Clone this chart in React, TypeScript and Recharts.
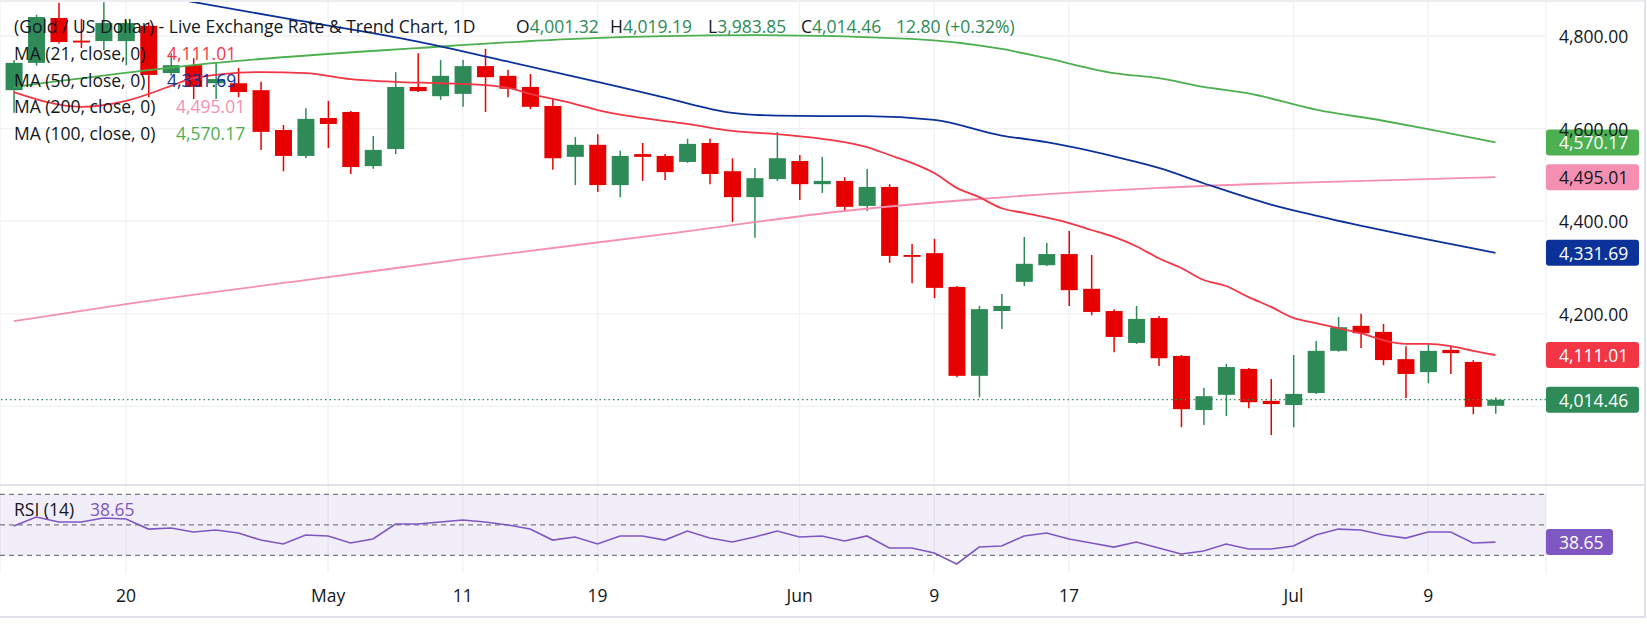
import React from "react";
import {
  ComposedChart,
  LineChart,
  Bar,
  Line,
  XAxis,
  YAxis,
  CartesianGrid,
  ReferenceLine,
  ReferenceArea,
} from "recharts";

// Daily sessions shown on the chart
const dates = [
  "Apr 13", "Apr 14", "Apr 15", "Apr 16", "Apr 17",
  "Apr 20", "Apr 21", "Apr 22", "Apr 23", "Apr 24",
  "Apr 27", "Apr 28", "Apr 29", "Apr 30", "May 1",
  "May 4", "May 5", "May 6", "May 7", "May 8",
  "May 11", "May 12", "May 13", "May 14", "May 15",
  "May 18", "May 19", "May 20", "May 21", "May 22",
  "May 25", "May 26", "May 27", "May 28", "May 29",
  "Jun 1", "Jun 2", "Jun 3", "Jun 4", "Jun 5",
  "Jun 8", "Jun 9", "Jun 10", "Jun 11", "Jun 12",
  "Jun 15", "Jun 16", "Jun 17", "Jun 18", "Jun 19",
  "Jun 22", "Jun 23", "Jun 24", "Jun 25", "Jun 26",
  "Jun 29", "Jun 30", "Jul 1", "Jul 2", "Jul 3",
  "Jul 6", "Jul 7", "Jul 8", "Jul 9", "Jul 10",
  "Jul 13", "Jul 14",
];

const opens = [
  4683, 4742, 4839, 4790, 4789, 4789, 4822, 4720, 4737, 4698,
  4698, 4683, 4597, 4541, 4623, 4636, 4519, 4556, 4690, 4670,
  4675, 4735, 4714, 4690, 4649, 4539, 4565, 4478, 4545, 4541,
  4528, 4569, 4508, 4452, 4491, 4530, 4480, 4487, 4433, 4474,
  4327, 4331, 4258, 4066, 4206, 4269, 4305, 4329, 4254, 4206,
  4137, 4191, 4109, 3992, 4025, 4081, 4012, 4003, 4029, 4120,
  4174, 4161, 4102, 4074, 4122, 4096, 4001.32,
];
const highs = [
  4748, 4846, 4872, 4837, 4873, 4834, 4830, 4763, 4752, 4742,
  4731, 4701, 4608, 4644, 4660, 4638, 4584, 4722, 4763, 4748,
  4748, 4772, 4727, 4718, 4664, 4582, 4588, 4552, 4569, 4545,
  4578, 4578, 4536, 4515, 4593, 4543, 4539, 4495, 4513, 4480,
  4351, 4362, 4260, 4217, 4243, 4366, 4353, 4379, 4327, 4210,
  4217, 4195, 4111, 4040, 4092, 4083, 4059, 4111, 4141, 4193,
  4200, 4178, 4130, 4135, 4130, 4100, 4019.19,
];
const lows = [
  4634, 4736, 4784, 4774, 4770, 4737, 4668, 4714, 4664, 4664,
  4668, 4554, 4508, 4536, 4558, 4502, 4513, 4545, 4679, 4662,
  4647, 4636, 4668, 4642, 4511, 4478, 4463, 4452, 4487, 4489,
  4526, 4480, 4398, 4364, 4487, 4446, 4461, 4424, 4422, 4310,
  4266, 4234, 4063, 4020, 4167, 4260, 4303, 4217, 4197, 4117,
  4135, 4087, 3955, 3960, 3979, 3996, 3938, 3955, 4027, 4118,
  4126, 4089, 4018, 4050, 4070, 3983, 3983.85,
];
const closes = [
  4742, 4841, 4787, 4786, 4828, 4828, 4716, 4737, 4690, 4707,
  4679, 4593, 4541, 4621, 4610, 4517, 4554, 4690, 4681, 4714,
  4735, 4711, 4686, 4647, 4536, 4565, 4478, 4541, 4539, 4506,
  4567, 4502, 4452, 4493, 4536, 4480, 4487, 4431, 4474, 4325,
  4323, 4256, 4066, 4210, 4217, 4308, 4329, 4251, 4204, 4150,
  4189, 4104, 3994, 4022, 4085, 4009, 4005, 4027, 4120, 4171,
  4158, 4100, 4070, 4120, 4115, 3999, 4014.46,
];

// Moving averages, sampled as [session index, value]
const ma21Points: [number, number][] = [
  [0, 4679], [3, 4647], [5, 4660], [7, 4692], [8, 4709], [11, 4722], [13, 4720],
  [15, 4707], [17, 4701], [19, 4698], [21, 4694], [22, 4688], [23, 4675], [25, 4653],
  [26, 4640], [28, 4623], [30, 4610], [32, 4595], [34, 4588], [36, 4578], [37, 4571],
  [38, 4560], [39, 4543], [40, 4526], [41, 4504], [42, 4472], [43, 4452], [44, 4428],
  [45, 4418], [47, 4396], [48, 4381], [49, 4366], [50, 4346], [51, 4320], [52, 4299],
  [53, 4273], [54, 4260], [55, 4236], [56, 4215], [57, 4191], [58, 4180], [59, 4169],
  [60, 4158], [61, 4143], [62, 4135], [63, 4135], [64, 4130], [65, 4120], [66, 4111.01],
];
const ma50Points: [number, number][] = [
  [7, 4882], [12, 4839], [18, 4788], [22, 4745], [26, 4701], [29, 4667], [32, 4634],
  [34, 4628], [36, 4627], [38, 4627], [41, 4619], [44, 4585], [46, 4571], [50, 4528],
  [51, 4515], [53, 4482], [56, 4436], [58, 4412], [61, 4380], [66, 4331.69],
];
const ma100Points: [number, number][] = [
  [0, 4690], [9, 4742], [18, 4774], [25, 4794], [33, 4802], [40, 4794], [44, 4772],
  [46, 4752], [49, 4720], [51, 4709], [53, 4690], [55, 4676], [58, 4641], [61, 4617],
  [63, 4599], [66, 4570.17],
];
const ma200Points: [number, number][] = [
  [0, 4184], [5, 4221], [14, 4279], [20, 4318], [29, 4372], [37, 4422], [43, 4448],
  [51, 4472], [57, 4483], [66, 4495.01],
];

const rsi14 = [
  49.2, 55.1, 51.8, 51.8, 54.5, 53.8, 47.2, 47.9, 45.3, 46.6,
  44.6, 40.0, 37.4, 43.3, 42.7, 38.1, 40.7, 50.5, 50.5, 51.8,
  53.1, 51.8, 49.9, 47.2, 40.0, 42.0, 37.4, 42.7, 42.7, 40.0,
  45.9, 41.3, 38.7, 42.0, 45.9, 42.0, 42.7, 39.4, 42.7, 34.8,
  34.8, 31.5, 24.3, 35.4, 36.1, 42.7, 44.6, 40.7, 38.1, 35.4,
  38.7, 34.8, 30.9, 32.8, 37.4, 34.1, 34.1, 36.1, 43.3, 47.2,
  46.6, 43.3, 41.3, 45.3, 45.3, 38.1, 38.65,
];

const axisTicks: [string, string][] = [
  ["Apr 20", "20"], ["May 1", "May"], ["May 11", "11"], ["May 19", "19"],
  ["Jun 1", "Jun"], ["Jun 9", "9"], ["Jun 17", "17"], ["Jul 1", "Jul"], ["Jul 9", "9"],
];
// grid levels; the 4,000 label is hidden behind the last-price tag
const priceTicks = [4000, 4200, 4400, 4600, 4800];
const priceLabels = [4200, 4400, 4600, 4800];
const rsiLevels = [70, 50, 30];
const dayChange = "12.80 (+0.32%)";

const W = 1647;
const AXIS_W = 101;
const MAIN_H = 485;
const RSI_H = 132;
const X_DOMAIN: [number, number] = [-0.615, 68.25];
const PRICE_DOMAIN: [number, number] = [3830.2, 4877.8];
const RSI_DOMAIN: [number, number] = [18.4, 76.1];

const UP = "#2e8b57";
const DOWN = "#e60000";
const GRID = "#f0f1f4";
const TEXT = "#131722";
const FONT = "'Open Sans', sans-serif";
const FS = 17.5;
const C21 = "#f23645";
const C50 = "#0c3299";
const C100 = "#4caf50";
const C200 = "#f48fb1";
const CRSI = "#7e57c2";

const toMap = (pts: [number, number][]) => new Map(pts);
const m21 = toMap(ma21Points);
const m50 = toMap(ma50Points);
const m100 = toMap(ma100Points);
const m200 = toMap(ma200Points);

const rows = dates.map((date, i) => ({
  i,
  date,
  open: opens[i],
  high: highs[i],
  low: lows[i],
  close: closes[i],
  ma21: m21.get(i) ?? null,
  ma50: m50.get(i) ?? null,
  ma100: m100.get(i) ?? null,
  ma200: m200.get(i) ?? null,
  rsi: rsi14[i],
}));

const tickIndex = axisTicks.map(([d]) => dates.indexOf(d));
const tickText = new Map(axisTicks.map(([d, t]) => [dates.indexOf(d), t]));

const fmt = (v: number) =>
  v.toLocaleString("en-US", { minimumFractionDigits: 2, maximumFractionDigits: 2 });
const lastOf = (pts: [number, number][]) => pts[pts.length - 1][1];
const last = rows.length - 1;

function Candle(props: any) {
  const { x, y, width, height, payload } = props;
  if (!payload) return null;
  const { open, close, high, low } = payload;
  const top = Math.min(y, y + height);
  const span = Math.abs(height);
  const k = span / (high - low);
  const yOf = (v: number) => top + (high - v) * k;
  const color = close >= open ? UP : DOWN;
  const cx = x + width / 2;
  const bodyTop = yOf(Math.max(open, close));
  const bodyH = Math.max(1.5, Math.abs(yOf(open) - yOf(close)));
  return (
    <g>
      <line x1={cx} x2={cx} y1={top} y2={top + span} stroke={color} strokeWidth={1.5} />
      <rect x={x} y={bodyTop} width={width} height={bodyH} fill={color} />
    </g>
  );
}

function PriceTick(props: any) {
  const { x, y, payload } = props;
  if (!priceLabels.includes(payload.value)) return null;
  return (
    <text x={x} y={y} fill={TEXT} fontSize={FS} fontFamily={FONT} dominantBaseline="central">
      {fmt(payload.value)}
    </text>
  );
}

function DateTick(props: any) {
  const { x, y, payload } = props;
  return (
    <text x={x} y={y + 22} fill={TEXT} fontSize={FS} fontFamily={FONT} textAnchor="middle" dominantBaseline="central">
      {tickText.get(payload.value) ?? ""}
    </text>
  );
}

// price tag drawn in the axis column, level with its reference line
const badge = (text: string, fill: string, ink: string, w = 93) => (props: any) => {
  const vb = props.viewBox;
  if (!vb) return null;
  const bx = vb.x + vb.width;
  return (
    <g>
      <rect x={bx} y={vb.y - 13} width={w} height={26} rx={3} fill={fill} />
      <text x={bx + 13} y={vb.y} fill={ink} fontSize={FS} fontFamily={FONT} dominantBaseline="central">
        {text}
      </text>
    </g>
  );
};

const rowStyle = (top: number, left: number): React.CSSProperties => ({
  position: "absolute",
  top: top - 12,
  left,
  height: 24,
  lineHeight: "24px",
  fontSize: FS,
  whiteSpace: "nowrap",
  color: TEXT,
});

export default function App() {
  const maRows: [string, number, string, number][] = [
    ["MA (21, close, 0)", lastOf(ma21Points), C21, 167],
    ["MA (50, close, 0)", lastOf(ma50Points), C50, 167],
    ["MA (200, close, 0)", lastOf(ma200Points), C200, 176],
    ["MA (100, close, 0)", lastOf(ma100Points), C100, 176],
  ];
  const ohlc: [string, number, number][] = [
    ["O", opens[last], 516],
    ["H", highs[last], 610],
    ["L", lows[last], 708],
    ["C", closes[last], 801],
  ];

  return (
    <div
      style={{
        position: "relative",
        width: W,
        height: 627,
        background: "#fff",
        fontFamily: FONT,
        overflow: "hidden",
      }}
    >
      <style>{"body{margin:0}"}</style>

      <div style={{ position: "absolute", top: 0, left: 0 }}>
        <ComposedChart width={W} height={MAIN_H} data={rows} margin={{ top: 0, right: 0, bottom: 0, left: 0 }}>
          <CartesianGrid stroke={GRID} strokeWidth={1.3} />
          <XAxis type="number" dataKey="i" domain={X_DOMAIN} ticks={tickIndex} hide allowDataOverflow />
          <YAxis
            orientation="right"
            type="number"
            domain={PRICE_DOMAIN}
            ticks={priceTicks}
            width={AXIS_W}
            allowDataOverflow
            axisLine={false}
            tickLine={false}
            tickSize={0}
            tickMargin={13}
            tick={<PriceTick />}
          />
          <Bar
            dataKey={(d: any) => [d.low, d.high]}
            shape={<Candle />}
            barSize={17}
            isAnimationActive={false}
          />
          <Line dataKey="ma200" type="monotone" stroke={C200} strokeWidth={1.8} dot={false} connectNulls isAnimationActive={false} />
          <Line dataKey="ma100" type="monotone" stroke={C100} strokeWidth={1.8} dot={false} connectNulls isAnimationActive={false} />
          <Line dataKey="ma50" type="monotone" stroke={C50} strokeWidth={1.8} dot={false} connectNulls isAnimationActive={false} />
          <Line dataKey="ma21" type="monotone" stroke={C21} strokeWidth={1.8} dot={false} connectNulls isAnimationActive={false} />
          <ReferenceLine
            y={closes[last]}
            stroke={UP}
            strokeDasharray="1.5 3"
            strokeWidth={1.3}
            label={badge(fmt(closes[last]), UP, "#fff")}
          />
          <ReferenceLine y={lastOf(ma100Points)} stroke="none" label={badge(fmt(lastOf(ma100Points)), C100, "#fff")} />
          <ReferenceLine y={lastOf(ma200Points)} stroke="none" label={badge(fmt(lastOf(ma200Points)), C200, TEXT)} />
          <ReferenceLine y={lastOf(ma50Points)} stroke="none" label={badge(fmt(lastOf(ma50Points)), C50, "#fff")} />
          <ReferenceLine y={lastOf(ma21Points)} stroke="none" label={badge(fmt(lastOf(ma21Points)), C21, "#fff")} />
        </ComposedChart>
      </div>

      <div style={{ position: "absolute", top: MAIN_H, left: 0 }}>
        <LineChart width={W} height={RSI_H} data={rows} margin={{ top: 0, right: AXIS_W, bottom: 0, left: 0 }}>
          <ReferenceArea y1={30} y2={70} fill={CRSI} fillOpacity={0.1} stroke="none" />
          <CartesianGrid horizontal={false} stroke={GRID} strokeWidth={1.3} />
          {rsiLevels.map((lv) => (
            <ReferenceLine key={lv} y={lv} stroke="#787b86" strokeDasharray="5 4" strokeWidth={1.2} />
          ))}
          <XAxis
            type="number"
            dataKey="i"
            domain={X_DOMAIN}
            ticks={tickIndex}
            interval={0}
            height={44}
            axisLine={false}
            tickLine={false}
            tickSize={0}
            tickMargin={0}
            tick={<DateTick />}
            allowDataOverflow
          />
          <YAxis hide domain={RSI_DOMAIN} allowDataOverflow />
          <Line dataKey="rsi" type="linear" stroke={CRSI} strokeWidth={1.6} dot={false} isAnimationActive={false} />
          <ReferenceLine y={rsi14[last]} stroke="none" label={badge(fmt(rsi14[last]), CRSI, "#fff", 67)} />
        </LineChart>
      </div>

      {/* pane frame */}
      <div style={{ position: "absolute", top: 0, left: 0, width: 1645, height: 2, background: "#eceef2" }} />
      <div style={{ position: "absolute", top: 484, left: 0, width: 1645, height: 2, background: "#e0e3eb" }} />
      <div style={{ position: "absolute", top: 616, left: 0, width: 1645, height: 2, background: "#e0e3eb" }} />
      <div style={{ position: "absolute", top: 0, left: 1644, width: 2, height: 618, background: "#e0e3eb" }} />

      {/* legend */}
      <div style={rowStyle(26, 14)}>(Gold / US Dollar) - Live Exchange Rate &amp; Trend Chart, 1D</div>
      {ohlc.map(([k, v, left]) => (
        <div key={k} style={rowStyle(26, left)}>
          {k}
          <span style={{ color: UP }}>{fmt(v)}</span>
        </div>
      ))}
      <div style={{ ...rowStyle(26, 896), color: UP }}>{dayChange}</div>

      {maRows.map(([name, v, color, left], n) => (
        <React.Fragment key={name}>
          <div style={rowStyle(53 + n * 26.7, 14)}>{name}</div>
          <div style={{ ...rowStyle(53 + n * 26.7, left), color }}>{fmt(v)}</div>
        </React.Fragment>
      ))}

      <div style={rowStyle(509, 14)}>RSI (14)</div>
      <div style={{ ...rowStyle(509, 90), color: CRSI }}>{fmt(rsi14[last])}</div>
    </div>
  );
}
